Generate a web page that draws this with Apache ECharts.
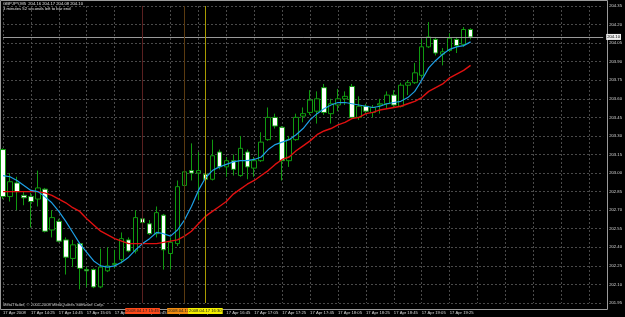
<!DOCTYPE html>
<html><head><meta charset="utf-8">
<script src="https://cdn.jsdelivr.net/npm/echarts@6/dist/echarts.min.js"></script>
<style>html,body{margin:0;padding:0;background:#000;}#c{width:625px;height:317px;}</style>
</head><body><div id="c"></div>
<script>
const times = ['14:05','14:10','14:15','14:20','14:25','14:30','14:35','14:40','14:45','14:50','14:55',
'15:00','15:05','15:10','15:15','15:20','15:25','15:30','15:35','15:40','15:45','15:50','15:55',
'16:00','16:05','16:10','16:15','16:20','16:25','16:30','16:35','16:40','16:45','16:50','16:55',
'17:00','17:05','17:10','17:15','17:20','17:25','17:30','17:35','17:40','17:45','17:50','17:55',
'18:00','18:05','18:10','18:15','18:20','18:25','18:30','18:35','18:40','18:45','18:50','18:55',
'19:00','19:05','19:10','19:15','19:20','19:25','19:30','19:35','19:40'];
const opens = [203.19,202.81,202.92,202.82,202.81,202.79,202.87,202.54,202.61,202.46,
202.31,202.43,202.22,202.22,202.08,202.21,202.26,202.30,202.46,202.37,
202.63,202.59,202.51,202.66,202.35,202.43,202.90,203.02,203.00,202.99,
202.95,203.17,203.05,203.10,202.98,203.17,203.04,203.10,203.27,203.45,
203.37,203.10,203.27,203.46,203.49,203.50,203.69,203.48,203.55,203.60,
203.70,203.45,203.54,203.49,203.55,203.56,203.63,203.54,203.71,203.73,
203.79,204.02,204.08,203.96,203.99,204.08,204.04,204.16];
const closes = [202.81,202.93,202.85,202.80,202.77,202.88,202.53,202.64,202.45,202.32,
202.42,202.23,202.21,202.08,202.24,202.25,202.27,202.47,202.37,202.64,
202.60,202.51,202.68,202.38,202.44,202.89,203.01,203.00,203.02,202.95,
203.14,203.05,203.10,203.03,203.20,203.05,203.10,203.25,203.45,203.38,
203.10,203.27,203.45,203.48,203.59,203.60,203.49,203.56,203.60,203.62,
203.45,203.54,203.50,203.53,203.56,203.63,203.55,203.71,203.73,203.81,
204.02,204.10,203.97,203.98,204.09,204.03,204.16,204.10];
const highs = [203.20,203.00,202.97,202.85,202.84,203.02,202.88,202.70,202.63,202.48,
202.46,202.44,202.24,202.23,202.39,202.40,202.38,202.52,202.48,202.70,
202.69,202.62,202.73,202.67,202.48,202.94,203.08,203.24,203.17,203.05,
203.27,203.19,203.13,203.15,203.30,203.19,203.13,203.33,203.53,203.48,
203.38,203.30,203.48,203.53,203.67,203.66,203.72,203.60,203.68,203.66,
203.72,203.62,203.56,203.55,203.60,203.66,203.67,203.73,203.75,203.89,
204.08,204.22,204.10,204.01,204.13,204.10,204.18,204.17];
const lows = [202.79,202.77,202.70,202.74,202.56,202.73,202.52,202.48,202.44,202.18,
202.24,202.06,202.08,202.07,202.07,202.20,202.23,202.27,202.36,202.35,
202.46,202.50,202.48,202.22,202.22,202.41,202.88,202.94,202.78,202.93,
202.94,203.03,202.97,202.98,202.97,202.95,202.97,203.09,203.26,203.36,
202.94,203.05,203.26,203.41,203.47,203.40,203.47,203.40,203.50,203.55,
203.44,203.43,203.48,203.45,203.48,203.52,203.53,203.53,203.63,203.72,
203.77,204.01,203.95,203.87,203.98,203.97,204.02,204.08];
const fastMA = [202.98,202.97,202.94,202.90,202.86,202.85,202.81,202.76,202.69,202.61,
202.52,202.43,202.36,202.29,202.25,202.24,202.25,202.28,202.32,202.38,
202.43,202.47,202.52,202.51,202.49,202.54,202.62,202.73,202.86,202.96,
203.02,203.05,203.07,203.09,203.10,203.10,203.11,203.13,203.19,203.23,
203.25,203.27,203.31,203.36,203.43,203.48,203.52,203.55,203.57,203.57,
203.56,203.55,203.54,203.53,203.54,203.56,203.57,203.58,203.61,203.66,
203.75,203.85,203.91,203.96,204.00,204.02,204.03,204.06];
const slowMA = [202.85,202.85,202.85,202.85,202.85,202.85,202.84,202.82,202.79,202.76,
202.72,202.69,202.63,202.58,202.53,202.50,202.47,202.45,202.43,202.43,
202.43,202.43,202.43,202.44,202.45,202.46,202.49,202.53,202.59,202.65,
202.69,202.73,202.77,202.83,202.87,202.91,202.94,202.98,203.02,203.07,
203.11,203.13,203.18,203.22,203.26,203.31,203.34,203.36,203.39,203.41,
203.44,203.45,203.48,203.49,203.51,203.52,203.53,203.54,203.56,203.58,
203.61,203.66,203.69,203.72,203.77,203.80,203.83,203.87];
const currentPrice = 204.10;
const vLines = [
  {time: '15:45', text: '2008.04.17 15:45', color: '#5a2020', bg: '#ff4a1a'},
  {time: '16:15', text: '2008.04.17 16:15', color: '#5a3a10', bg: '#f08c10'},
  {time: '16:30', text: '2008.04.17 16:30', color: '#a89a00', bg: '#f4f000'}
];
const headerText = 'GBPJPY,M5  204.16 204.17 204.08 204.10';
const timerText = '3 minutes 52 seconds left to bar end';
const copyrightText = 'MetaTrader, \u00a9 2001-2008 MetaQuotes Software Corp.';
const yMin = 201.95, yMax = 204.35, yStep = 0.15;

const FONT = 'Liberation Sans';
const cats = times.slice();
while (cats.length < 87) cats.push('');
const candleData = opens.map((o, i) => [o, closes[i], lows[i], highs[i]]);

const chart = echarts.init(document.getElementById('c'), null, {renderer: 'canvas'});
chart.setOption({
  backgroundColor: '#000',
  animation: false,
  grid: {left: 2, right: 21, top: 6, bottom: 14},
  xAxis: {
    type: 'category', data: cats, boundaryGap: false,
    axisLine: {show: false}, axisTick: {show: false},
    axisLabel: {
      interval: 3, color: '#d8d8d8', fontSize: 4.2, fontFamily: FONT, align: 'left', margin: 8,
      formatter: (v, i) => (i === 0 ? '17 Apr 2008' : (v ? '17 Apr ' + v : ''))
    },
    splitLine: {show: true, interval: 3, lineStyle: {color: '#4a4a4a', type: [2, 2], width: 1}}
  },
  yAxis: {
    type: 'value', position: 'right', min: yMin, max: yMax, interval: yStep, scale: true,
    axisLine: {show: false}, axisTick: {show: false},
    axisLabel: {color: '#d8d8d8', fontSize: 4.2, fontFamily: FONT, align: 'left', margin: 6,
      formatter: v => v.toFixed(2)},
    splitLine: {show: true, lineStyle: {color: '#4a4a4a', type: [2, 2], width: 1}}
  },
  series: [
    {
      type: 'candlestick', data: candleData, barWidth: 5, clip: false,
      itemStyle: {color: '#000', color0: '#ffffff', borderColor: '#109a10', borderColor0: '#109a10', borderWidth: 1},
      markLine: {
        symbol: 'none', silent: true, animation: false,
        data: [
          {yAxis: currentPrice, lineStyle: {color: '#9a9a9a', type: 'solid', width: 1},
           label: {show: true, position: 'end', distance: 3, formatter: currentPrice.toFixed(2),
             color: '#000', backgroundColor: '#f0f0f0', fontSize: 4.2, fontFamily: FONT, padding: [1, 1]}}
        ].concat(vLines.map(v => ({
          xAxis: times.indexOf(v.time),
          lineStyle: {color: v.color, type: 'solid', width: 1, opacity: 1},
          label: {show: true, position: 'start', distance: 5, formatter: v.text,
            color: '#202020', backgroundColor: v.bg, fontSize: 4.2, fontFamily: FONT, padding: [1, 1]}
        })))
      }
    },
    {type: 'line', data: slowMA, symbol: 'none', lineStyle: {color: '#e01010', width: 1.4}, z: 3},
    {type: 'line', data: fastMA, symbol: 'none', lineStyle: {color: '#1ea0e6', width: 1.2}, z: 4}
  ],
  graphic: [
    {type: 'rect', shape: {x: 0.5, y: 0.5, width: 607, height: 309}, style: {fill: 'none', stroke: '#9a9a9a', lineWidth: 1}, silent: true, z: 1},
    {type: 'text', left: 3, top: 2, style: {text: headerText, fill: '#e0e0e0', fontSize: 4.2, fontFamily: FONT}},
    {type: 'text', left: 3, top: 7, style: {text: timerText, fill: '#e0e0e0', fontSize: 4.2, fontFamily: FONT}},
    {type: 'text', left: 3, top: 303, style: {text: copyrightText, fill: '#d0d0d0', fontSize: 4.2, fontFamily: FONT}}
  ]
});
</script></body></html>
